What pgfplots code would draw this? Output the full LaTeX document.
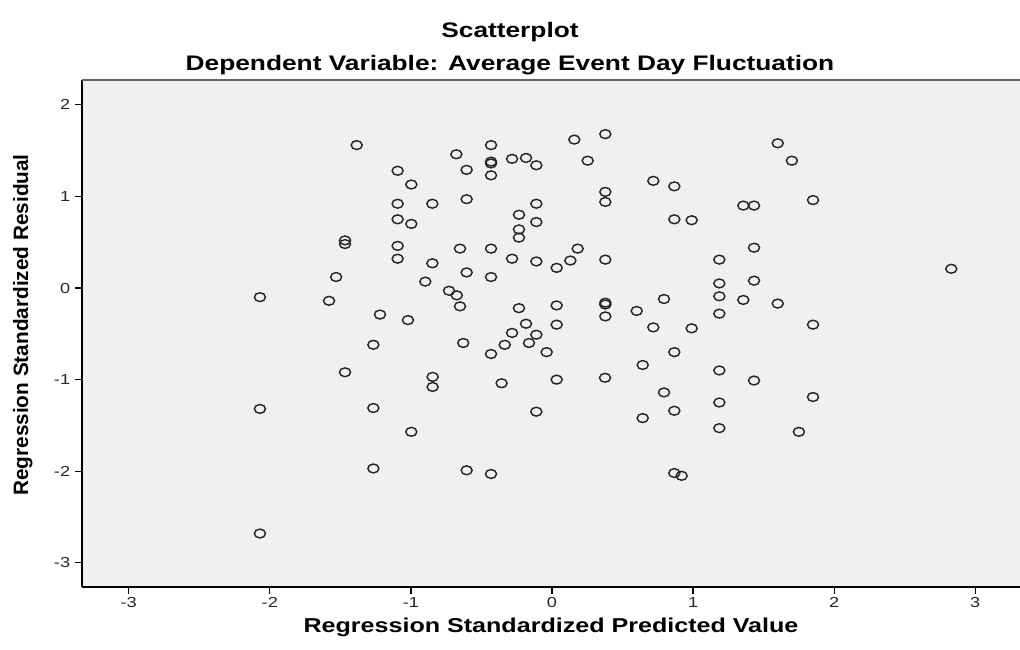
\documentclass[border=0pt]{standalone}
\usepackage{fontspec}
\setmainfont{Liberation Sans}
\newfontfamily\wide{Liberation Sans}[FakeStretch=1.25]
\usepackage{pgfplots}
\pgfplotsset{compat=1.18}

\begin{document}
\begin{tikzpicture}
\useasboundingbox (0in,0in) rectangle (10.2in,6.5in);
\begin{axis}[
  at={(0.82in,0.63in)}, anchor=south west,
  scale only axis, width=9.38in, height=5.07in,
  xmin=-3.331, xmax=3.317, ymin=-3.264, ymax=2.271,
  axis x line*=bottom, axis y line*=left,
  axis line style={-, black, line width=1.1pt},
  axis background/.style={fill=black!6},
  xtick={-3,...,3}, xticklabels={-3,-2,-1,0,1,2,3},
  ytick={-3,...,2}, yticklabels={-3,-2,-1,0,1,2},
  tick align=outside, major tick length=0.07in,
  tick style={black, line width=0.9pt},
  ticklabel style={font=\wide\fontsize{10.5}{12}\selectfont, text=black!85},
  xticklabel style={yshift=1pt},
  clip=false,
]
\draw[black!60, line width=1.6pt] (rel axis cs:0,1) -- (rel axis cs:1,1);
\addplot[only marks, mark=o, mark size=3.2pt,
  mark options={xscale=1.25, line width=1.05pt, draw=black!85}]
  coordinates {
  (-2.07,-0.10)(-2.07,-1.32)(-2.07,-2.68)(-1.58,-0.14)(-1.53,0.12)
  (-1.467,0.52)(-1.467,0.48)(-1.467,-0.92)(-1.384,1.56)(-1.266,-0.62)
  (-1.266,-1.31)(-1.266,-1.97)(-1.219,-0.29)(-1.094,1.28)(-1.094,0.92)
  (-1.094,0.75)(-1.094,0.46)(-1.094,0.32)(-1.021,-0.35)(-0.997,1.13)
  (-0.997,0.70)(-0.997,-1.57)(-0.898,0.07)(-0.848,0.92)(-0.848,0.27)
  (-0.846,-0.97)(-0.846,-1.08)(-0.730,-0.03)(-0.678,1.46)(-0.675,-0.08)
  (-0.652,0.43)(-0.652,-0.20)(-0.629,-0.60)(-0.605,1.29)(-0.605,0.97)
  (-0.605,0.17)(-0.605,-1.99)(-0.432,1.56)(-0.432,1.38)(-0.432,1.36)
  (-0.432,1.23)(-0.432,0.43)(-0.432,0.12)(-0.432,-0.72)(-0.432,-2.03)
  (-0.357,-1.04)(-0.335,-0.62)(-0.283,1.41)(-0.283,0.32)(-0.283,-0.49)
  (-0.234,0.80)(-0.234,0.64)(-0.234,0.55)(-0.234,-0.22)(-0.184,1.42)
  (-0.184,-0.39)(-0.163,-0.60)(-0.111,1.34)(-0.111,0.92)(-0.111,0.72)
  (-0.111,0.29)(-0.111,-0.51)(-0.111,-1.35)(-0.038,-0.70)(0.033,0.22)
  (0.033,-0.19)(0.033,-0.40)(0.033,-1.00)(0.130,0.30)(0.158,1.62)
  (0.182,0.43)(0.253,1.39)(0.378,1.68)(0.378,1.05)(0.378,0.94)
  (0.378,0.31)(0.378,-0.16)(0.378,-0.18)(0.378,-0.31)(0.376,-0.98)
  (0.600,-0.25)(0.643,-0.84)(0.643,-1.42)(0.718,1.17)(0.718,-0.43)
  (0.794,-0.12)(0.794,-1.14)(0.867,1.11)(0.867,0.75)(0.867,-0.70)
  (0.867,-1.34)(0.867,-2.02)(0.919,-2.05)(0.99,0.74)(0.99,-0.44)
  (1.186,0.31)(1.186,0.05)(1.186,-0.09)(1.186,-0.28)(1.186,-0.90)
  (1.186,-1.25)(1.186,-1.53)(1.356,0.90)(1.356,-0.13)(1.432,0.90)
  (1.432,0.44)(1.432,0.08)(1.432,-1.01)(1.60,1.58)(1.60,-0.17)
  (1.70,1.39)(1.75,-1.57)(1.85,0.96)(1.85,-0.40)(1.85,-1.19)
  (2.83,0.21)
  };
\end{axis}
\node[anchor=base, font=\wide\bfseries\fontsize{15.2}{18}\selectfont] at (5.10in,6.12in) {Scatterplot};
\node[anchor=base, font=\wide\bfseries\fontsize{15.2}{18}\selectfont] at (5.10in,5.79in) {Dependent Variable: Average Event Day Fluctuation};
\node[anchor=base, font=\wide\bfseries\fontsize{14.5}{17}\selectfont] at (5.51in,0.18in) {Regression Standardized Predicted Value};
\node[rotate=90, anchor=base, font=\bfseries\fontsize{15}{18}\selectfont] at (0.28in,3.25in) {Regression Standardized Residual};
\end{tikzpicture}
\end{document}
